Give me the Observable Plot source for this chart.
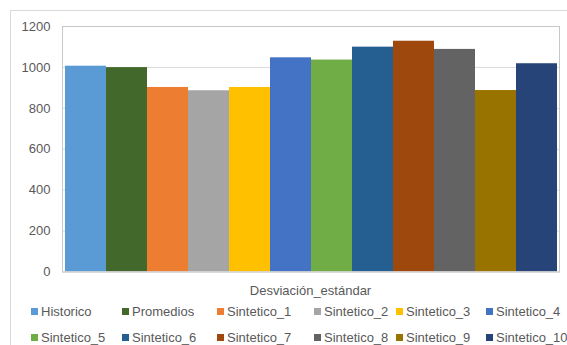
<!DOCTYPE html>
<html>
<head>
<meta charset="utf-8">
<script src="https://cdn.jsdelivr.net/npm/d3@7"></script>
<script src="https://cdn.jsdelivr.net/npm/@observablehq/plot@0.6"></script>
<style>
  html, body { margin: 0; padding: 0; background: #fff; overflow: hidden; }
  body { width: 567px; height: 345px; position: relative; font-family: "Liberation Sans", Arial, sans-serif; color: #595959; }
  #frame { position: absolute; left: 10px; top: 10px; width: 620px; height: 400px; border: 1px solid #d9d9d9; box-sizing: border-box; }
  #chart { position: absolute; left: 0; top: 0; }
  #xtitle { position: absolute; top: 282px; left: 62px; width: 497px; text-align: center; font-size: 13px; line-height: 17px; }
  #legend { position: absolute; left: 31px; top: 299px; display: grid; grid-template-columns: 91px 95px 97px 82px 90px 110px; grid-auto-rows: 25.6px; font-size: 13px; white-space: nowrap; }
  .item { display: flex; align-items: center; }
  .sw { width: 7px; height: 7px; margin-right: 3px; flex: none; }
</style>
</head>
<body>
<div id="frame"></div>
<div id="chart"></div>
<div id="xtitle"></div>
<div id="legend"></div>
<script>
const categoryLabel = "Desviación_estándar";
const series = ["Historico","Promedios","Sintetico_1","Sintetico_2","Sintetico_3","Sintetico_4","Sintetico_5","Sintetico_6","Sintetico_7","Sintetico_8","Sintetico_9","Sintetico_10"];
const values = [1006, 999, 902, 886, 902, 1047, 1036, 1099, 1128, 1088, 887, 1018];
const colors = ["#5B9BD5","#43682B","#ED7D31","#A5A5A5","#FFC000","#4472C4","#70AD47","#255E91","#9E480E","#636363","#997300","#264478"];
const yTicks = [0, 200, 400, 600, 800, 1000, 1200];

const data = series.map((s, i) => ({series: s, value: values[i]}));

const plot = Plot.plot({
  width: 567,
  height: 280,
  marginLeft: 62,
  marginRight: 8,
  marginTop: 26,
  marginBottom: 8.5,
  style: {fontFamily: '"Liberation Sans", Arial, sans-serif', fontSize: "13px", color: "#595959", background: "transparent"},
  x: {domain: series, padding: 0, axis: null},
  y: {domain: [0, 1200], ticks: yTicks, label: null, tickSize: 0, tickPadding: 12, tickFormat: d3.format("d")},
  color: {domain: series, range: colors},
  marks: [
    Plot.gridY(yTicks, {stroke: "#d9d9d9", strokeOpacity: 1}),
    Plot.barY(data, {x: "series", y: "value", fill: "series"}),
    Plot.frame({stroke: "#c8c8c8"}),
    Plot.ruleY([0], {stroke: "#d9d9d9"}),
    Plot.axisY(yTicks, {tickSize: 0, tickPadding: 12, fill: "#595959", fontSize: 13, label: null, tickFormat: d3.format("d")})
  ]
});
document.getElementById("chart").appendChild(plot);
document.getElementById("xtitle").textContent = categoryLabel;

const legend = document.getElementById("legend");
series.forEach((s, i) => {
  const item = document.createElement("div");
  item.className = "item";
  const sw = document.createElement("span");
  sw.className = "sw";
  sw.style.background = colors[i];
  const t = document.createElement("span");
  t.textContent = s;
  item.appendChild(sw);
  item.appendChild(t);
  legend.appendChild(item);
});
</script>
</body>
</html>
